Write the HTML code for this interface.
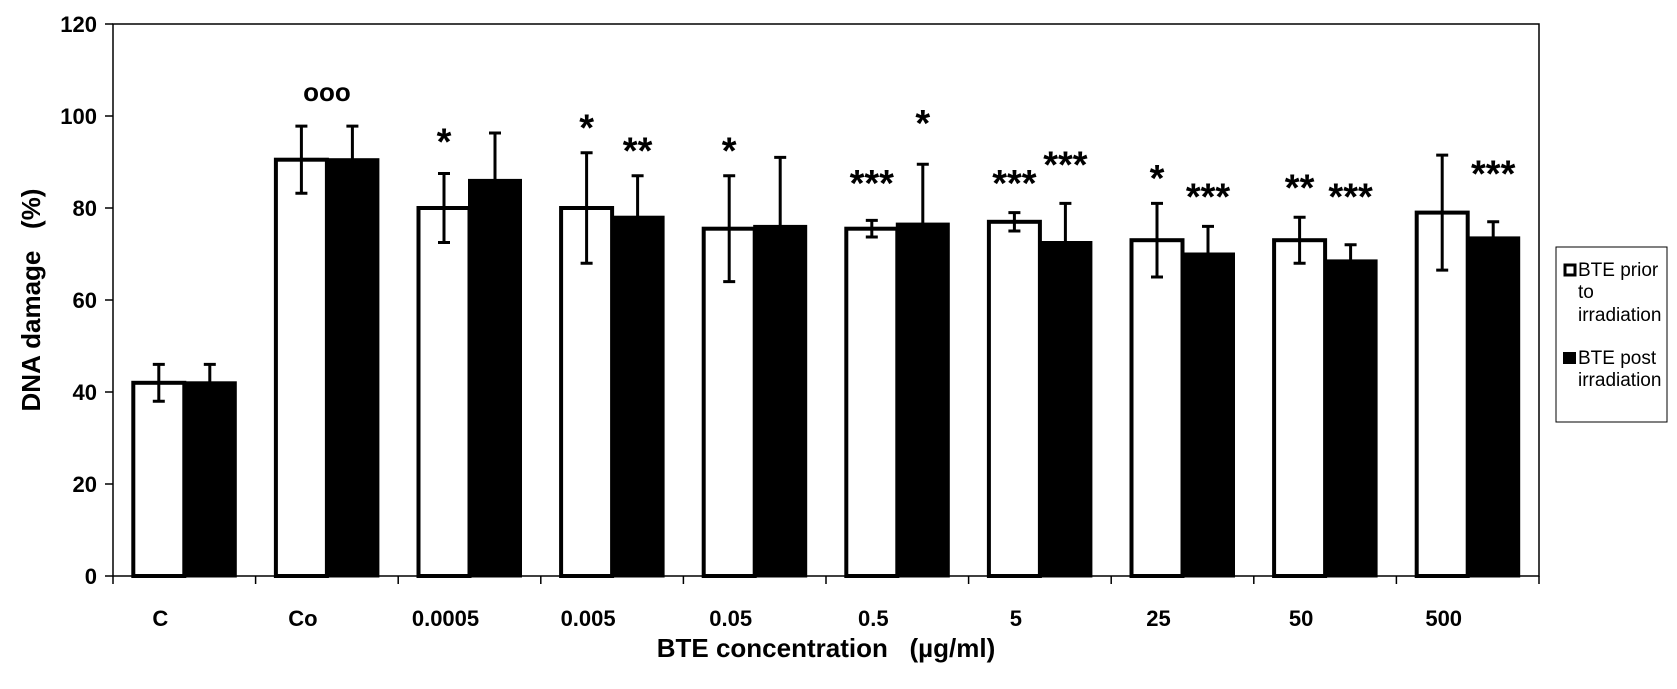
<!DOCTYPE html>
<html><head><meta charset="utf-8"><style>
html,body{margin:0;padding:0;background:#fff;}
svg{display:block;font-family:"Liberation Sans",Arial,sans-serif;}
</style></head><body>
<svg id="chart" width="1677" height="689" viewBox="0 0 1677 689" xmlns="http://www.w3.org/2000/svg">
<g id="plot"></g>
<text x="0" y="0" transform="translate(40,300) rotate(-90)" text-anchor="middle" font-size="26" font-weight="bold" xml:space="preserve">DNA damage   (%)</text>
<text x="826" y="657" text-anchor="middle" font-size="26" font-weight="bold" xml:space="preserve">BTE concentration   (µg/ml)</text>
<g>
<rect x="1556" y="247" width="111" height="175" fill="#fff" stroke="#000" stroke-width="1"/>
<rect x="1565" y="265" width="10" height="10" fill="#fff" stroke="#000" stroke-width="3"/>
<text font-size="19"><tspan x="1578" y="276">BTE prior</tspan><tspan x="1578" y="298">to</tspan><tspan x="1578" y="321">irradiation</tspan></text>
<rect x="1563" y="352" width="13" height="12" fill="#000"/>
<text font-size="19"><tspan x="1578" y="364">BTE post</tspan><tspan x="1578" y="386">irradiation</tspan></text>
</g>
</svg>
<script>
const categories=["C","Co","0.0005","0.005","0.05","0.5","5","25","50","500"];
const priorValues=[42,90.5,80,80,75.5,75.5,77,73,73,79];
const priorErrors=[4,7.3,7.5,12,11.5,1.8,2,8,5,12.5];
const postValues=[42,90.5,86,78,76,76.5,72.5,70,68.5,73.5];
const postErrors=[4,7.3,10.3,9,15,13,8.5,6,3.5,3.5];
const priorMarks=["","","*","*","*","***","***","*","**",""];
const priorMarkY=[0,0,96,99,94,87,87,88,86,0];
const postMarks=["","","","**","","*","***","***","***","***"];
const postMarkY=[0,0,0,94,0,100,91,84,84,89];
const yTicks=[0,20,40,60,80,100,120];
const groupMark="ooo";const groupMarkY=105.4;const groupMarkIdx=1;

const NS="http://www.w3.org/2000/svg";
const plot=document.getElementById('plot');
const L=113,R=1539,T=24,B=576,ymax=120;
const step=(R-L)/categories.length;
const bw=51;
function y(v){return B-(B-T)*v/ymax;}
function cx(i){return L+step*(i+0.5);}
function mk(tag,a){const e=document.createElementNS(NS,tag);for(const k in a)e.setAttribute(k,a[k]);plot.appendChild(e);return e;}

let f=mk('rect',{x:L,y:T,width:R-L,height:B-T,fill:'none',stroke:'#000','stroke-width':1.5});


yTicks.forEach(v=>{
  const t=mk('line',{x1:L-8,x2:L,y1:y(v),y2:y(v),stroke:'#000','stroke-width':1.5});
  
  
  const l=mk('text',{x:L-16,y:y(v)+8,'text-anchor':'end','font-size':22,'font-weight':'bold'});
  l.textContent=v;
  
  
});
for(let i=0;i<=categories.length;i++){
  const t=mk('line',{x1:L+step*i,x2:L+step*i,y1:B,y2:B+8,stroke:'#000','stroke-width':1.5});
  
  
}
categories.forEach((c,i)=>{
  const c0=cx(i);
  const ep=mk('path',{d:`M${c0-bw/2},${y(priorValues[i]-priorErrors[i])}V${y(priorValues[i]+priorErrors[i])}M${c0-bw/2-6},${y(priorValues[i]-priorErrors[i])}h12M${c0-bw/2-6},${y(priorValues[i]+priorErrors[i])}h12`,stroke:'#000','stroke-width':3,fill:'none'});
  
  
  const b1=mk('rect',{x:c0-bw,y:y(priorValues[i]),width:bw,height:B-y(priorValues[i]),fill:'#fff',stroke:'#000','stroke-width':4});
  
  
  const ea=mk('path',{d:`M${c0-bw/2},${y(priorValues[i]-priorErrors[i])}V${y(priorValues[i])}M${c0-bw/2-6},${y(priorValues[i]-priorErrors[i])}h12`,stroke:'#000','stroke-width':3,fill:'none'});
  
  
  const b2=mk('rect',{x:c0,y:y(postValues[i]),width:bw,height:B-y(postValues[i]),fill:'#000',stroke:'#000','stroke-width':3});
  
  
  const eb=mk('path',{d:`M${c0+bw/2},${y(postValues[i])}V${y(postValues[i]+postErrors[i])}M${c0+bw/2-6},${y(postValues[i]+postErrors[i])}h12`,stroke:'#000','stroke-width':3,fill:'none'});
  
  
  const tl=mk('text',{x:c0-24,y:B+50,'text-anchor':'middle','font-size':22,'font-weight':'bold'});
  tl.textContent=c;
  
  
  if(priorMarks[i]){
    const s=mk('text',{x:c0-bw/2,y:y(priorMarkY[i])+20,'text-anchor':'middle','font-size':38,'font-weight':'bold'});
    s.textContent=priorMarks[i];
    
    
  }
  if(postMarks[i]){
    const s=mk('text',{x:c0+bw/2,y:y(postMarkY[i])+20,'text-anchor':'middle','font-size':38,'font-weight':'bold'});
    s.textContent=postMarks[i];
    
    
  }
});
const g=mk('text',{x:cx(groupMarkIdx),y:y(groupMarkY)+10,'text-anchor':'middle','font-size':26,'font-weight':'bold'});
g.textContent=groupMark;


</script>
</body></html>
